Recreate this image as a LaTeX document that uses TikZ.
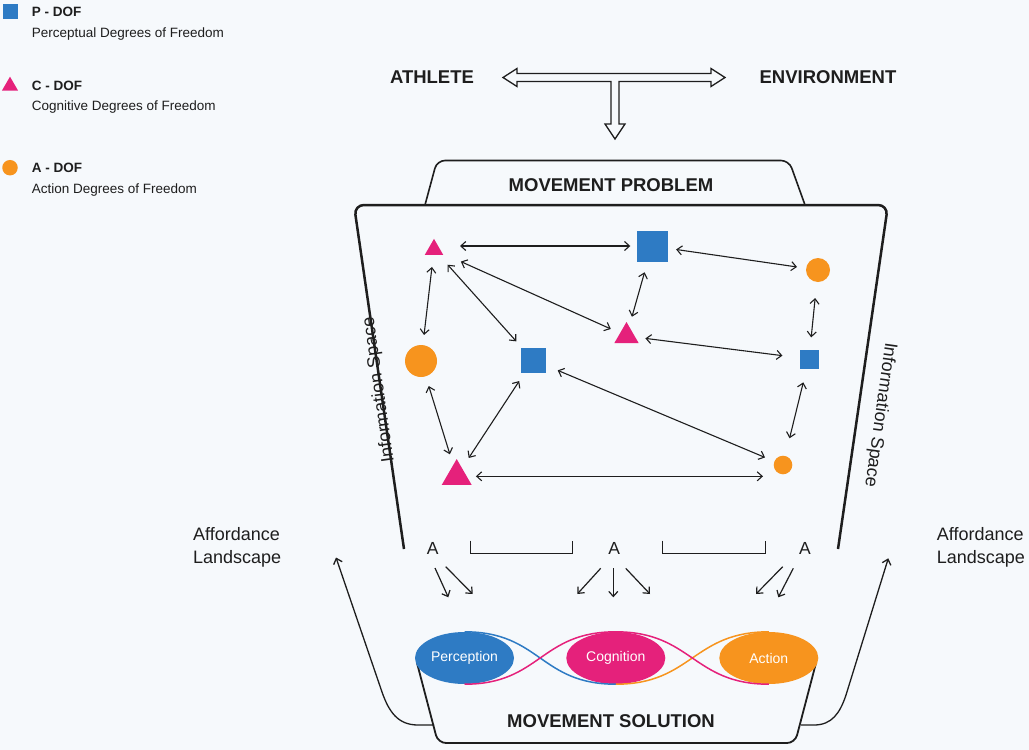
\documentclass[tikz,border=0pt]{standalone}
\usepackage{fontspec}
\setmainfont{Liberation Sans}
\usetikzlibrary{arrows.meta,shapes.geometric,calc}
\definecolor{bg}{HTML}{F6F9FC}
\definecolor{dofblue}{HTML}{2E7BC4}
\definecolor{dofpink}{HTML}{E5217B}
\definecolor{doforange}{HTML}{F7941E}
\definecolor{ink}{HTML}{1E1E1E}
\begin{document}
\begin{tikzpicture}[x=1pt,y=-1pt,
  >={Straight Barb[length=5pt,width=9pt]},
  psq/.style={rectangle,fill=dofblue,inner sep=0pt,minimum size=#1},
  ctri/.style={regular polygon,regular polygon sides=3,fill=dofpink,inner sep=0pt,minimum size=#1},
  acirc/.style={circle,fill=doforange,inner sep=0pt,minimum size=#1},
  link/.style={<->,line width=1.1pt,draw=ink},
  aarrow/.style={->,line width=1.2pt,draw=ink},
  title/.style={font=\fontsize{18.5}{22}\selectfont\bfseries,text=ink,inner sep=0pt},
  legtitle/.style={anchor=base west,inner sep=0pt,font=\fontsize{13.5}{16}\selectfont\bfseries,text=ink},
  legtext/.style={anchor=base west,inner sep=0pt,font=\fontsize{13.5}{16}\selectfont,text=ink},
  plain/.style={font=\fontsize{18}{22.6}\selectfont,text=ink,inner sep=0pt},
  blob/.style={ellipse,minimum width=99pt,minimum height=52pt,inner sep=0pt,text=white,font=\fontsize{14}{17}\selectfont},
  helix/.style={line width=1.5pt},
  aff/.style={->,line width=1.3pt,draw=ink}
]
\fill[bg] (0,0) rectangle (1029,750);
\useasboundingbox (0,0) rectangle (1029,750);

% ---------- legend ----------
\node[psq=15pt] (lgP) at (10,11.7) {};
\node[legtitle] (lgPt) at (31.7,16.7) {P - DOF};
\node[legtext] (lgPd) at (31.7,37.3) {Perceptual Degrees of Freedom};
\node[ctri=18.7pt] (lgC) at (10,86) {};
\node[legtitle] (lgCt) at (31.7,90.7) {C - DOF};
\node[legtext] (lgCd) at (31.7,110) {Cognitive Degrees of Freedom};
\node[acirc=15.5pt] (lgA) at (10,167.7) {};
\node[legtitle] (lgAt) at (31.7,172) {A - DOF};
\node[legtext] (lgAd) at (31.7,193.3) {Action Degrees of Freedom};

% ---------- athlete / environment ----------
\node[title] (ath) at (432,77.5) {ATHLETE};
\node[title] (env) at (828,77.5) {ENVIRONMENT};
\draw[line width=1.3pt,draw=ink,fill=bg,line join=miter]
  (503,77.5) -- (517,68.5) -- (517,73.5) -- (711,73.5) -- (711,68.5) -- (725,77.5)
  -- (711,86.5) -- (711,81.5) -- (619,81.5) -- (619,124) -- (625,124) -- (615,139)
  -- (605,124) -- (611,124) -- (611,81.5) -- (517,81.5) -- (517,86.5) -- cycle;

% ---------- movement problem ----------
\draw[line width=1.6pt,draw=ink,rounded corners=8pt] (425,205) -- (437,160.5) -- (789,160.5) -- (805,205);
\node[title] (mp) at (611,185) {MOVEMENT PROBLEM};
\draw[line width=2.5pt,draw=ink,rounded corners=10pt] (404,549) -- (354,205) -- (888,205) -- (838,549);
\begin{scope}[y=1pt]
\node[plain,rotate=98] (isl) at (379,-390) {Information Space};
\node[plain,rotate=-98] (isr) at (880,-415) {Information Space};
\end{scope}

% DOF nodes
\node[ctri=21.3pt] (T1) at (434,249.5) {};
\node[psq=31pt] (P1) at (652,246) {};
\node[acirc=24pt] (A1) at (818,270) {};
\node[acirc=32pt] (A2) at (421,361) {};
\node[psq=25pt] (P2) at (533,360) {};
\node[ctri=28pt] (T2) at (626.5,336) {};
\node[psq=19pt] (P3) at (809,359) {};
\node[ctri=34.6pt] (T3) at (456.7,476.3) {};
\node[acirc=18.6pt] (A3) at (783,465) {};

\draw[link,shorten <=26pt,shorten >=6pt] (P1 -| T1) -- (P1);
\draw[link,shorten <=20pt,shorten >=10pt] (T1) -- (T2);
\draw[link,shorten <=13pt,shorten >=8pt] (T1) -- (P2);
\draw[link,shorten <=12pt,shorten >=10pt] (T1) -- (A2);
\draw[link,shorten <=10pt,shorten >=11pt] (A2) -- (T3);
\draw[link,shorten <=10pt,shorten >=12pt] (P2) -- (T3);
\draw[link,shorten <=9pt,shorten >=20pt] (T3) -- (T3 -| A3);
\draw[link,shorten <=13pt,shorten >=10pt] (P2) -- (A3);
\draw[link,shorten <=11pt,shorten >=10pt] (P1) -- (T2);
\draw[link,shorten <=8.5pt,shorten >=9pt] (P1) -- (A1);
\draw[link,shorten <=10pt,shorten >=17pt] (T2) -- (P3);
\draw[link,shorten <=16pt,shorten >=12pt] (A1) -- (P3);
\draw[link,shorten <=14pt,shorten >=18pt] (P3) -- (A3);

% ---------- affordances ----------
\node[plain,font=\fontsize{17.5}{21}\selectfont] (Aa) at (432.7,548.3) {A};
\node[plain,font=\fontsize{17.5}{21}\selectfont] (Ab) at (614.3,548.3) {A};
\node[plain,font=\fontsize{17.5}{21}\selectfont] (Ac) at (805,548.3) {A};
\draw[line width=1.3pt,draw=ink] (470.5,540.7) -- (470.5,553.3) -- (572.3,553.3) -- (572.3,540.7);
\draw[line width=1.3pt,draw=ink] (662.7,540.7) -- (662.7,553.3) -- (765.3,553.3) -- (765.3,540.7);

\coordinate (a1s) at (435,568);   \coordinate (a1e) at (448.3,597.3);
\coordinate (a2s) at (445.7,566.7); \coordinate (a2e) at (472.7,594);
\coordinate (b1s) at (600.7,568.3); \coordinate (b1e) at (577.3,594);
\coordinate (b2s) at (613.3,568.3); \coordinate (b2e) at (613.3,597.3);
\coordinate (b3s) at (625.7,568.3); \coordinate (b3e) at (650,594);
\coordinate (c1s) at (782.7,566.7); \coordinate (c1e) at (756,594);
\coordinate (c2s) at (793.3,568.3); \coordinate (c2e) at (778.3,597.3);
\foreach \s/\e in {a1s/a1e,a2s/a2e,b1s/b1e,b2s/b2e,b3s/b3e,c1s/c1e,c2s/c2e}
  \draw[aarrow] (\s) -- (\e);

\node[plain,align=left,anchor=west] (affL) at (193,547.3) {Affordance\\Landscape};
\node[plain,align=left,anchor=west] (affR) at (936.7,547.3) {Affordance\\Landscape};

% ---------- movement solution ----------
\draw[line width=1.8pt,draw=ink,rounded corners=8pt] (417,663) -- (438,743) -- (795,743) -- (816,663);
\node[title] (ms) at (611,721) {MOVEMENT SOLUTION};

\coordinate (affLs) at (434,725);
\coordinate (affLe) at (336,557.5);
\coordinate (affRs) at (801,725);
\coordinate (affRe) at (888.3,558.3);
\draw[aff] (affLs) -- (418,725) .. controls (398,725) and (389,712) .. (382,692) -- (affLe);
\draw[aff] (affRs) -- (814,725) .. controls (832,725) and (840,713) .. (846,695) -- (affRe);

\node[blob,fill=dofblue] (perc) at (464.5,658) {Perception};
\node[blob,fill=dofpink] (cogn) at (615.8,658) {Cognition};
\node[blob,fill=doforange] (act) at (768.8,658) {Action};

\draw[helix,dofblue] (perc.north) .. controls +(76,0) and +(-76,0) .. (cogn.south);
\draw[helix,doforange] (cogn.south) .. controls +(76,0) and +(-76,0) .. (act.north);
\draw[helix,dofpink] (perc.south) .. controls +(76,0) and +(-76,0) .. (cogn.north)
  .. controls +(76,0) and +(-76,0) .. (act.south);
\end{tikzpicture}
\end{document}
